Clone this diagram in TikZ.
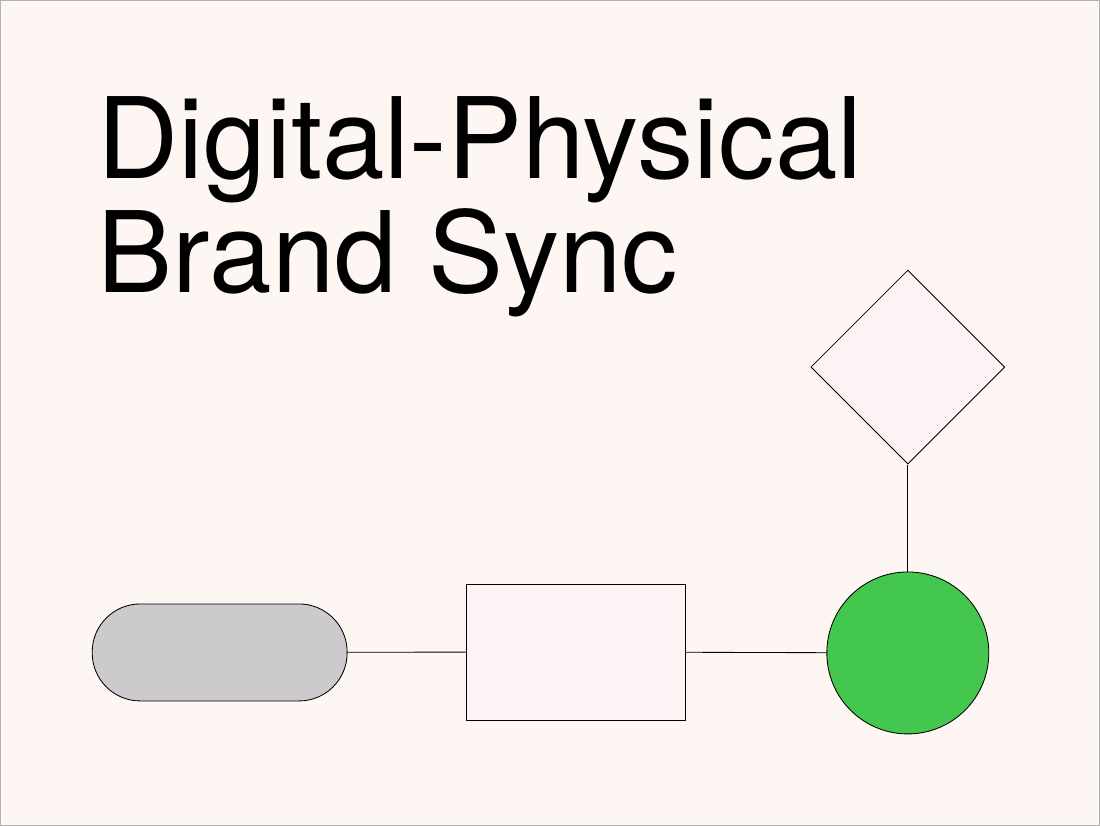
\documentclass[tikz,border=0pt]{standalone}
\usepackage{fontspec}
\setmainfont{TeX Gyre Heros}
\usetikzlibrary{shapes.geometric}
\definecolor{paper}{HTML}{FDF6F3}
\definecolor{pillgray}{HTML}{CCCACC}
\definecolor{boxpink}{HTML}{FDF3F5}
\definecolor{syncgreen}{HTML}{44C74F}
\tikzset{
  shape line/.style={draw=black, line width=0.6pt},
  link/.style={draw=black, line width=0.6pt}
}
\begin{document}
\begin{tikzpicture}[x=0.025cm, y=-0.025cm]
        % Background
    \fill[paper, draw=gray!60] (0,0) rectangle (1100,825);
    \useasboundingbox (0,0) rectangle (1100,825);

        % Title
    \node[anchor=base west, inner sep=0, font=\fontsize{80}{84}\selectfont] (title1) at (97,178) {Digital-Physical};
    \node[anchor=base west, inner sep=0, font=\fontsize{80}{84}\selectfont] (title2) at (97,292) {Brand Sync};

        % Shapes
    \node[shape line, fill=pillgray, rounded corners=1.2cm, minimum width=6.375cm, minimum height=2.425cm] (pill) at (219.5,652.5) {};
    \node[shape line, fill=boxpink, minimum width=5.475cm, minimum height=3.4cm] (box) at (575.5,652) {};
    \node[shape line, fill=syncgreen, circle, minimum size=4.05cm, inner sep=0] (hub) at (908,653) {};
    \node[shape line, fill=boxpink, diamond, aspect=1, minimum size=4.85cm, inner sep=0] (gem) at (908,367) {};

        % Connectors
    \draw[link] (pill) -- (box);
    \draw[link] (box) -- (hub);
    \draw[link] (gem) -- (hub);
\end{tikzpicture}
\end{document}
